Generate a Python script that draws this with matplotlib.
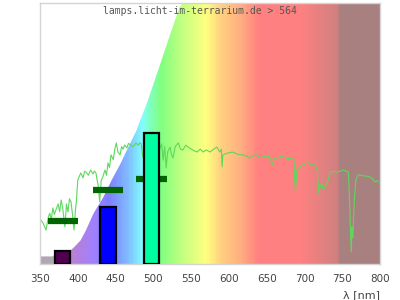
import numpy as np
import matplotlib
matplotlib.use('Agg')
import matplotlib.pyplot as plt
from matplotlib.colors import LinearSegmentedColormap

# measured spectrum (relative, 0..1)
spec_nm = [351, 354, 358, 361, 363, 365, 367, 369, 371, 374, 376, 378, 380, 383, 385, 387, 389,
           391, 393, 395, 397, 398, 400, 402, 404, 407, 409, 411, 414, 417, 420, 422, 424, 427,
           429, 431, 433, 436, 438, 440, 442, 444, 447, 449, 451, 453, 456, 458, 460, 462, 465,
           467, 470, 473, 477, 480, 482, 484, 486, 488, 495, 505, 509, 511, 513, 515, 517, 519,
           522, 524, 526, 529, 533, 536, 539, 543, 548, 553, 558, 562, 566, 570, 575, 580, 584,
           588, 590, 591, 592, 598, 605, 612, 619, 624, 628, 632, 637, 641, 645, 650, 654, 656,
           657, 660, 664, 668, 672, 678, 684, 686, 687, 688, 690, 694, 698, 701, 705, 710, 714,
           717, 719, 721, 723, 725, 728, 730, 732, 734, 738, 743, 747, 751, 755, 758, 759, 760,
           761, 762, 763, 764, 766, 768, 771, 775, 780, 785, 789, 793, 796, 798]
spec_val = [0.169, 0.157, 0.130, 0.180, 0.195, 0.170, 0.215, 0.190, 0.207, 0.230, 0.200, 0.245,
            0.215, 0.142, 0.230, 0.200, 0.250, 0.238, 0.190, 0.130, 0.210, 0.234, 0.322, 0.335,
            0.349, 0.330, 0.355, 0.352, 0.340, 0.360, 0.345, 0.356, 0.349, 0.300, 0.238, 0.320,
            0.333, 0.360, 0.340, 0.387, 0.370, 0.418, 0.400, 0.440, 0.464, 0.430, 0.418, 0.450,
            0.440, 0.456, 0.445, 0.462, 0.456, 0.448, 0.464, 0.455, 0.464, 0.460, 0.410, 0.450,
            0.452, 0.450, 0.444, 0.460, 0.398, 0.450, 0.368, 0.430, 0.448, 0.420, 0.406, 0.450,
            0.464, 0.440, 0.437, 0.455, 0.444, 0.435, 0.429, 0.440, 0.429, 0.437, 0.429, 0.440,
            0.448, 0.429, 0.440, 0.372, 0.418, 0.425, 0.429, 0.420, 0.418, 0.412, 0.406, 0.415,
            0.418, 0.408, 0.410, 0.414, 0.410, 0.395, 0.379, 0.405, 0.406, 0.412, 0.410, 0.404,
            0.406, 0.400, 0.330, 0.276, 0.360, 0.372, 0.379, 0.385, 0.387, 0.380, 0.379, 0.360,
            0.272, 0.300, 0.310, 0.284, 0.300, 0.310, 0.330, 0.352, 0.355, 0.352, 0.355, 0.360,
            0.356, 0.352, 0.300, 0.207, 0.120, 0.046, 0.142, 0.100, 0.245, 0.322, 0.341, 0.340,
            0.337, 0.335, 0.330, 0.314, 0.320, 0.314]

# upper edge of the coloured area (white above)
mask_nm = [350, 366, 367, 376, 387, 394, 403, 410, 420, 433, 444, 456, 466, 477, 482, 492, 507,
           522, 534, 538, 545]
mask_val = [0.031, 0.031, 0.034, 0.038, 0.046, 0.065, 0.092, 0.13, 0.195, 0.257, 0.322, 0.387,
            0.448, 0.513, 0.552, 0.628, 0.755, 0.885, 0.985, 1.0, 1.05]

# LED bars
bar_nm = [380, 440, 497]
bar_val = [0.050, 0.218, 0.502]
bar_colors = ['#500050', '#0000ff', '#00ffa0']

# dark green segments
seg_start = [360, 420, 477]
seg_end = [400, 460, 518]
seg_val = [0.165, 0.283, 0.324]

bg_stops = [(350, '#b0a8b0'), (366, '#b0a8b0'), (370, '#c090c8'), (395, '#b880d8'),
            (420, '#a080ff'), (440, '#8080ff'), (455, '#80a0ff'), (470, '#80c8ff'),
            (485, '#80ffff'), (495, '#80ffc0'), (510, '#80ff80'), (540, '#c8ff80'),
            (570, '#ffff80'), (590, '#ffd080'), (615, '#ffb080'), (640, '#ff8080'),
            (695, '#ff8080'), (745, '#d08080'), (746, '#a88080'), (800, '#a88080')]
cmap = LinearSegmentedColormap.from_list(
    'spec', [((w - 350) / 450, c) for w, c in bg_stops])

fig = plt.figure(figsize=(4, 3), dpi=100)
ax = fig.add_axes([0.1, 0.12, 0.85, 0.87])

grad = np.linspace(0, 1, 451).reshape(1, -1)
ax.imshow(grad, cmap=cmap, aspect='auto', extent=(350, 800, 0, 1), zorder=0,
          interpolation='nearest')
ax.fill_between(mask_nm, mask_val, 1.1, color='white', lw=0, zorder=1)

ax.plot(spec_nm, spec_val, color='#5cd85c', lw=0.8, zorder=2)
ax.hlines(seg_val, seg_start, seg_end, colors='#006400', lw=4.5, capstyle='butt', zorder=3)
ax.bar(bar_nm, bar_val, width=20, color=bar_colors, edgecolor='black', lw=1.6, zorder=4)

ax.set_xlim(350, 800)
ax.set_ylim(0, 1)
ax.set_xticks(range(350, 801, 50))
ax.set_yticks([])
ax.tick_params(axis='x', length=0, pad=7, labelsize=7.5, labelcolor='#444444')
for s in ax.spines.values():
    s.set_color('#d4d4d4')
    s.set_linewidth(1)

fig.text(0.5, 1 - 11 / 300, 'lamps.licht-im-terrarium.de > 564', family='DejaVu Sans Mono',
         fontsize=7, color='#555555', ha='center', va='center')
fig.text(0.95, 5 / 300, 'λ [nm]', fontsize=8, color='#444444', ha='right', va='center')

plt.savefig('out.png', dpi=100)
